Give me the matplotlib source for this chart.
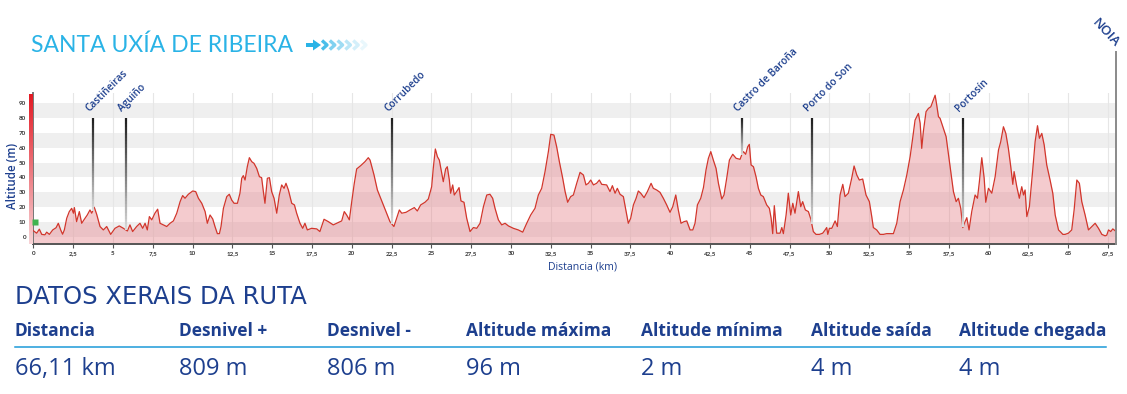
import numpy as np
import matplotlib
matplotlib.use('Agg')
import matplotlib.pyplot as plt
from matplotlib.collections import LineCollection
from matplotlib.patches import Polygon

# elevation profile (km, m), in four stretches
dist_a = [0.0, 0.21, 0.38, 0.53, 0.73, 0.84, 1.01, 1.22, 1.43, 1.57, 1.72, 1.84, 1.95, 2.1, 2.26,
          2.41, 2.52, 2.58, 2.72, 2.89, 3.04, 3.18, 3.39, 3.56, 3.67, 3.83, 3.98, 4.19, 4.4, 4.61,
          4.86, 5.13, 5.4, 5.66, 5.91, 6.07, 6.24, 6.49, 6.7, 6.87, 7.02, 7.16, 7.29, 7.44, 7.64,
          7.81, 7.96, 8.17, 8.38, 8.59, 8.8, 9.01, 9.22, 9.38, 9.53, 9.74, 10.01, 10.2, 10.37,
          10.58, 10.79, 10.93, 11.1, 11.27, 11.41, 11.56, 11.69, 11.79, 11.94, 12.15, 12.31, 12.46,
          12.61, 12.82, 12.98, 13.09, 13.19, 13.3, 13.44, 13.57, 13.72, 13.86, 14.03, 14.2, 14.34,
          14.45, 14.55, 14.7, 14.83, 14.97, 15.12, 15.29, 15.45, 15.6, 15.75, 15.87, 16.02, 16.23,
          16.4, 16.54, 16.75]
alt_a = [4, 2.3, 5, 1.5, 1.2, 3, 1.5, 4.5, 6, 9, 4.5, 1.6, 4.5, 12.4, 16.9, 19.1, 15.8, 19.6, 10.1,
         16.9, 9, 11.3, 14.6, 18, 15.8, 19.8, 15.1, 6.8, 4.5, 6.8, 1.5, 5.6, 7.2, 5.6, 3.8, 7.9, 3.4,
         6.8, 9, 5.6, 9, 4.5, 13.5, 11.3, 15.8, 18.5, 9, 7.9, 6.8, 9, 10.6, 15.8, 23.6, 27.7, 25.9,
         28.6, 30.8, 30.4, 25.9, 22.5, 16.9, 9, 14.6, 11.9, 6.8, 2, 2, 6.8, 19.1, 27, 28.6, 24.7,
         22.5, 22.5, 29.3, 39.4, 41.2, 38.2, 47.2, 53.3, 50.6, 49.5, 46.1, 40.5, 39.8, 30.4, 22.5,
         39.4, 39.8, 30.4, 25.9, 15.8, 28.1, 34.9, 32.6, 36, 31.5, 22.5, 21.4, 15.8, 9]

dist_b = [16.92, 17.06, 17.21, 17.48, 17.8, 18.0, 18.26, 18.53, 18.84, 19.16, 19.37, 19.53, 19.68,
          19.85, 20.0, 20.16, 20.31, 20.56, 20.83, 21.04, 21.15, 21.4, 21.61, 21.88, 22.15, 22.4,
          22.65, 22.82, 22.99, 23.14, 23.41, 23.66, 23.93, 24.12, 24.33, 24.6, 24.81, 25.02, 25.12,
          25.25, 25.38, 25.5, 25.65, 25.75, 25.9, 26.0, 26.13, 26.21, 26.34, 26.44, 26.59, 26.74,
          26.86, 27.05, 27.22, 27.43, 27.64, 27.85, 28.06, 28.27, 28.48, 28.68, 28.85, 29.0, 29.21,
          29.42, 29.63, 29.84, 30.15, 30.46, 30.74, 30.99, 31.24, 31.51, 31.72, 31.93, 32.14, 32.35,
          32.5, 32.7, 32.87, 33.04, 33.25, 33.4, 33.56, 33.75]
alt_b = [5.6, 9, 4.5, 5.6, 5.2, 3.4, 11.7, 10.1, 7.9, 9.5, 10.6, 16.9, 14.6, 11.3, 23.6, 36, 45.7,
         47.9, 50.6, 53.3, 51.7, 41.6, 31.5, 24.1, 16.9, 10.1, 6.8, 12.4, 18, 15.8, 16.4, 18, 19.6,
         17.3, 21.4, 23.2, 25.4, 33.7, 46.1, 59.2, 54, 51.7, 42.7, 37.1, 45.7, 47.2, 38.2, 29.3,
         34.9, 28.1, 30.4, 33.1, 24.1, 23.2, 12.4, 3.4, 6.1, 5.6, 9, 20.2, 28.1, 28.6, 25.9, 19.1,
         11.3, 7.9, 9, 7.2, 5.6, 4.5, 3, 9, 14.6, 19.1, 28.1, 32.6, 43.9, 57.4, 69.1, 68.6, 60.7,
         50.6, 39.4, 30.4, 23.2, 27]

dist_c = [33.92, 34.13, 34.34, 34.55, 34.71, 34.86, 35.01, 35.18, 35.38, 35.55, 35.7, 36.01, 36.22,
          36.37, 36.54, 36.68, 36.85, 37.06, 37.23, 37.37, 37.52, 37.69, 37.86, 38.0, 38.15, 38.36,
          38.57, 38.8, 38.94, 39.15, 39.36, 39.57, 39.78, 39.99, 40.16, 40.35, 40.51, 40.68, 40.87,
          41.04, 41.25, 41.42, 41.56, 41.71, 41.92, 42.09, 42.25, 42.4, 42.55, 42.71, 42.88, 43.03,
          43.24, 43.38, 43.55, 43.72, 43.93, 44.14, 44.39, 44.49, 44.6, 44.74, 44.87, 44.97, 45.08,
          45.23, 45.39, 45.54, 45.69, 45.85, 46.06, 46.23, 46.34, 46.44, 46.54, 46.69, 46.9, 47.01,
          47.11, 47.28, 47.42, 47.57, 47.7, 47.84, 48.05, 48.2, 48.32, 48.49, 48.68, 48.83, 48.99,
          49.16, 49.37, 49.58, 49.73, 49.83, 49.9, 50.0, 50.15, 50.36, 50.5]
alt_c = [28.1, 36, 43.4, 41.6, 34.9, 36, 38.2, 34.9, 36, 38.2, 35.3, 34.9, 30.4, 34.4, 29.3, 32.6,
         28.6, 27, 16.9, 9, 12.4, 21.4, 25.9, 30.8, 29.3, 26.3, 30.4, 36, 32.6, 31.5, 29.9, 25.9,
         21.4, 16.4, 20.2, 28.1, 18, 9, 10.1, 10.6, 4.5, 4.5, 9, 21.4, 25.9, 33.1, 45, 52.9, 57.4,
         51.7, 46.1, 36, 25.4, 28.1, 39.4, 51.7, 55.6, 52.9, 52.2, 55.1, 57.4, 55.6, 60.7, 62.3,
         48.4, 47.2, 40.5, 32.6, 28.1, 27, 21.4, 19.1, 12.4, 2, 20.9, 2.3, 2.3, 6.1, 2, 14.6, 29.3,
         14.6, 22.5, 15.8, 30.4, 20.2, 23.6, 18, 16.9, 11.9, 3.4, 1.5, 1.5, 2.3, 4.5, 6.1, 1.5, 5.6,
         5.6, 10.6, 6.8]

dist_d = [50.67, 50.84, 50.98, 51.19, 51.4, 51.55, 51.72, 51.88, 52.09, 52.3, 52.51, 52.66, 52.76,
          52.97, 53.18, 53.39, 53.6, 53.81, 54.02, 54.23, 54.44, 54.65, 54.86, 55.07, 55.23, 55.38,
          55.59, 55.7, 55.8, 55.9, 56.07, 56.22, 56.37, 56.49, 56.64, 56.74, 56.85, 56.95, 57.16,
          57.33, 57.47, 57.62, 57.79, 57.96, 58.1, 58.25, 58.38, 58.52, 58.63, 58.77, 58.94, 59.15,
          59.3, 59.42, 59.57, 59.72, 59.82, 59.99, 60.2, 60.41, 60.62, 60.76, 60.93, 61.08, 61.24,
          61.39, 61.52, 61.6, 61.77, 61.93, 62.08, 62.19, 62.29, 62.4, 62.56, 62.77, 62.92, 63.07,
          63.19, 63.34, 63.49, 63.65, 63.86, 64.03, 64.18, 64.39, 64.53, 64.66, 64.8, 65.01, 65.22,
          65.37, 65.54, 65.7, 65.85, 66.06, 66.27, 66.48, 66.69, 66.9, 67.11, 67.32, 67.42, 67.53,
          67.67, 67.8, 67.94]
alt_d = [28.1, 35.3, 27, 29.3, 39.4, 47.7, 41.6, 38.2, 38.9, 28.1, 23.6, 13.5, 6.1, 4.5, 1.5, 1.5,
         2, 2, 2, 9, 23.6, 31.5, 41.6, 54, 66.4, 78.7, 83.2, 76.5, 59.6, 70.9, 84.4, 86.6, 87.7,
         91.1, 95.5, 88.9, 81, 79.9, 73.1, 67.5, 56.2, 43.9, 30.4, 23.6, 25.9, 19.1, 6.1, 10.1,
         12.8, 4.5, 16.9, 28.1, 25.9, 37.1, 53.3, 39.4, 23.2, 32.6, 29.3, 40.5, 58.5, 64.1, 74.2,
         69.7, 59.6, 47.2, 35.3, 43.9, 33.7, 25.9, 33.7, 28.1, 31.5, 13.5, 20.2, 45, 64.1, 74.9,
         66.4, 69.7, 61.9, 48.4, 38.2, 29.3, 14.6, 4.5, 3, 1.5, 1.5, 2.3, 4.5, 18, 38.2, 36, 23.6,
         14.6, 4.5, 6.8, 9, 5.6, 1.5, 0.5, 1, 4.5, 3.4, 5.2, 4]

# named places along the route
place_names = ['Castiñeiras', 'Aguiño', 'Corrubedo', 'Castro de Baroña', 'Porto do Son', 'Portosín']
place_km = [3.73, 5.82, 22.5, 44.5, 48.9, 58.4]
end_name = 'NOIA'
end_km = 67.97

# summary table
stat_labels = ['Distancia', 'Desnivel +', 'Desnivel -', 'Altitude máxima', 'Altitude mínima',
               'Altitude saída', 'Altitude chegada']
stat_values = ['66,11 km', '809 m', '806 m', '96 m', '2 m', '4 m', '4 m']

x_ticks = np.arange(0, 68, 2.5)
y_ticks = list(range(0, 100, 10))

dist = np.array(dist_a + dist_b + dist_c + dist_d)
alt = np.array(alt_a + alt_b + alt_c + alt_d)

BLUE = '#1d3f8e'
CYAN = '#2ab3e6'
OPEN = ['Open Sans', 'DejaVu Sans']
plt.rcParams['font.family'] = ['Lato', 'DejaVu Sans']

W, H = 1127, 394
fig = plt.figure(figsize=(W / 100, H / 100), dpi=100)
fig.patch.set_facecolor('white')

# main profile axes (pixel box 33..1116 x 93..244)
ax = fig.add_axes([33.3 / W, 1 - 244 / H, (1116 - 33.3) / W, (244 - 93) / H])
ax.set_facecolor('white')

for y0 in range(0, 90, 20):
    ax.axhspan(y0, y0 + 10, color='#efefef', lw=0, zorder=0)
for xt in x_ticks[1:]:
    ax.axvline(xt, color='#e6e6e6', lw=0.8, zorder=0.5)

ax.fill_between(dist, alt, -5, color='#e57e86', alpha=0.4, lw=0, zorder=1)
ax.plot(dist, alt, color='#d2362c', lw=0.9, zorder=3)

# marker lines, dark at the top fading into the profile
for name, km in zip(place_names, place_km):
    bottom = np.interp(km, dist, alt)
    ys = np.linspace(80, bottom, 40)
    segs = [[(km, ys[i]), (km, ys[i + 1])] for i in range(len(ys) - 1)]
    shade = np.linspace(0.12, 0.85, len(segs))
    cols = [(s, s, s) for s in shade]
    ax.add_collection(LineCollection(segs, colors=cols, linewidths=1.6, zorder=4))
    ax.text(km - 0.23, 84, name, rotation=45, rotation_mode='anchor', ha='left', va='baseline',
            fontsize=7.3, fontweight='semibold', family=OPEN, color=BLUE, zorder=6)

ax.plot([end_km, end_km], [-5, 124.5], color='#8a8a8a', lw=1.4, clip_on=False, zorder=4)
ax.text(end_km - 0.2, 126, end_name, rotation=-47, rotation_mode='anchor', ha='right',
        va='bottom', fontsize=9.5, fontweight='semibold', family=OPEN, color=BLUE)

# red altitude bar on the left edge
top_c = np.array([0.89, 0.10, 0.14])
bot_c = np.array([0.97, 0.83, 0.84])
t = np.linspace(0, 1, 100)[:, None]
grad = (top_c * (1 - t) + bot_c * t)[:, None, :]
ax.imshow(grad, extent=(-0.27, -0.02, -5, 96), aspect='auto', origin='upper',
          clip_on=False, zorder=5)
ax.plot([0.13], [10], marker='s', ms=4.5, color='#3fb34f', mec='none', clip_on=False, zorder=6)

ax.set_xlim(0, 68)
ax.set_ylim(-5, 97)
ax.set_xticks(x_ticks)
ax.set_xticklabels([('%g' % v).replace('.', ',') for v in x_ticks], fontsize=4.5,
                   fontweight='bold', color='#333333')
ax.set_yticks(y_ticks)
ax.set_yticklabels([str(v) for v in y_ticks], fontsize=4.5, fontweight='bold', color='#333333')
ax.tick_params(length=3, width=0.8, color='#555555', pad=2)
for side in ['top', 'right']:
    ax.spines[side].set_visible(False)
ax.spines['left'].set_color('#777777')
ax.spines['left'].set_linewidth(1.4)
ax.spines['bottom'].set_color('#555555')
ax.spines['bottom'].set_linewidth(1.4)

# overlay in pixel coordinates for titles and table
deco = fig.add_axes([0, 0, 1, 1])
deco.set_xlim(0, W)
deco.set_ylim(H, 0)
deco.axis('off')
deco.patch.set_visible(False)

deco.text(12, 176, 'Altitude (m)', rotation=90, ha='center', va='center', fontsize=8.3,
          fontweight='semibold', family=OPEN, color=BLUE)
deco.text(583, 267, 'Distancia (km)', ha='center', va='center', fontsize=7.6,
          family=OPEN, color=BLUE)

deco.text(31, 52, 'SANTA UXÍA DE RIBEIRA', fontsize=16.5, color=CYAN, va='baseline')

# arrow with fading chevrons
deco.add_patch(Polygon([(306, 43), (313, 43), (313, 39.5), (321, 45), (313, 50.5), (313, 47),
                        (306, 47)], closed=True, color=CYAN, lw=0))
for i, a in enumerate([0.85, 0.6, 0.45, 0.32, 0.2, 0.1]):
    x0 = 322 + i * 7.8
    deco.plot([x0, x0 + 5, x0], [40.5, 45, 49.5], color=CYAN, alpha=a, lw=2.4,
              solid_capstyle='butt')

deco.text(15, 304, 'DATOS XERAIS DA RUTA', fontsize=17.5, family='DejaVu Sans', color=BLUE,
          va='baseline')

col_x = [15, 179, 327, 466, 641, 811, 959]
for x, lab, val in zip(col_x, stat_labels, stat_values):
    deco.text(x, 336, lab, fontsize=12.5, fontweight='bold', family=OPEN,
              color=BLUE, va='baseline')
    deco.text(x, 375, val, fontsize=17, family=OPEN, color=BLUE, va='baseline')
deco.plot([15, 1106], [347, 347], color='#1d9ad9', lw=1.1)

fig.savefig('out.png', dpi=100, facecolor='white')
